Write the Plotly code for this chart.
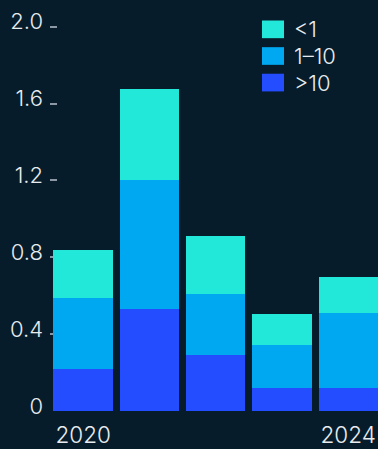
import plotly.graph_objects as go

# Years on the category axis and the three stacked size classes
years = [2020, 2021, 2022, 2023, 2024]
series_names = ["<1", "1–10", ">10"]
vals_lt1 = [0.25, 0.47, 0.30, 0.16, 0.19]
vals_1_10 = [0.37, 0.675, 0.32, 0.225, 0.39]
vals_gt10 = [0.22, 0.53, 0.29, 0.12, 0.12]

y_ticks = [0, 0.4, 0.8, 1.2, 1.6, 2.0]
y_tick_text = ["0", "0.4", "0.8", "1.2", "1.6", "2.0"]
x_ticks = [2020, 2024]
x_tick_text = ["2020", "2024"]

BG = "#071c2b"
COLORS = {"<1": "#22e8d9", "1–10": "#00a8f1", ">10": "#244dff"}
TEXT = "#e8ecef"
FONT = "Inter"

W, H = 378, 449
Y_MAX = 2.03
M = dict(l=50, r=0, t=20.5, b=38)

fig = go.Figure()
# bottom to top: >10, 1–10, <1
for name, vals in [(">10", vals_gt10), ("1–10", vals_1_10), ("<1", vals_lt1)]:
    fig.add_trace(go.Bar(x=years, y=vals, name=name,
                         marker=dict(color=COLORS[name], line=dict(width=0)),
                         showlegend=False))

# Legend drawn as swatches + labels in the top-right corner
pw = W - M["l"] - M["r"]
ph = H - M["t"] - M["b"]


def px_x(px):
    return (px - M["l"]) / pw


def px_y(py):
    return (H - M["b"] - py) / ph


row_tops = [20, 46.7, 73.3]
for name, top in zip(series_names, row_tops):
    fig.add_shape(type="rect", xref="paper", yref="paper",
                  x0=px_x(262), x1=px_x(284), y0=px_y(top + 17.7), y1=px_y(top),
                  fillcolor=COLORS[name], line=dict(width=0))
    fig.add_annotation(xref="paper", yref="paper", x=px_x(292), y=px_y(top + 8.8),
                       text=name, showarrow=False, xanchor="left", yanchor="middle",
                       font=dict(family=FONT, size=22, color=TEXT, weight=300))

fig.update_layout(
    width=W, height=H, margin=M,
    paper_bgcolor=BG, plot_bgcolor=BG,
    barmode="stack", bargap=0.105,
    font=dict(family=FONT, size=22, color=TEXT, weight=300),
    xaxis=dict(range=[2019.5, 2024.45], tickvals=x_ticks, ticktext=x_tick_text,
               ticks="", showgrid=False, zeroline=False, showline=False,
               automargin=False,
               tickfont=dict(family=FONT, size=22.5, color=TEXT, weight=300),
               ticklabelstandoff=8),
    yaxis=dict(range=[0, Y_MAX], tickvals=y_ticks, ticktext=y_tick_text,
               ticks="inside", ticklen=7, tickwidth=1.5, tickcolor="#8b98a3",
               showgrid=False, zeroline=False, showline=False, automargin=False,
               layer="below traces", ticklabelshift=-5, ticklabelstandoff=6,
               tickfont=dict(family=FONT, size=22, color=TEXT, weight=300)),
)

fig.write_html("out.html")
